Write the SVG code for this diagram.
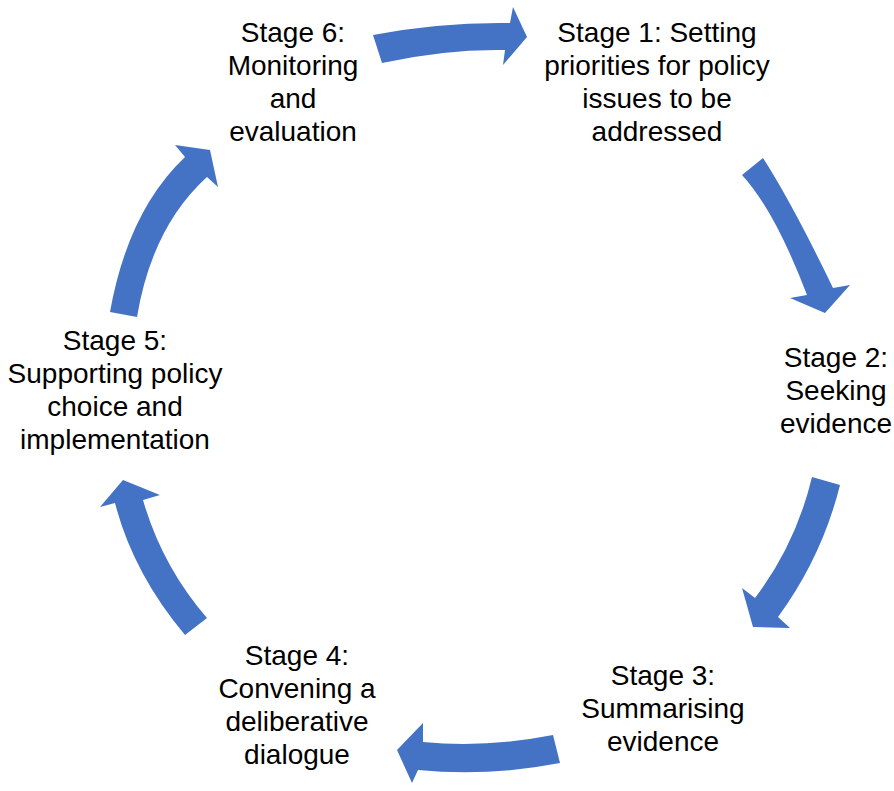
<svg xmlns="http://www.w3.org/2000/svg" width="894" height="791" viewBox="0 0 894 791">
<style>
.lbl{font-family:"Liberation Sans",Arial,sans-serif;font-size:28px;fill:#000;text-anchor:middle}
.arr{fill:#4472C4;stroke:none}
</style>
<rect width="894" height="791" fill="#fff"/>
<g id="connectors">
<path class="arr" d="M373,35 Q440,22 510,23 L513,7 L527,37 L503,65 L505,50 Q445,49 382,63 Z"/>
<path class="arr" d="M763,158 Q792,203 833,288 L850,285 L825,313 L790,298 L807,295 Q775,211 742,175 Z"/>
<path class="arr" d="M840,485 Q822,557 778,617 L790,628 L753,627 L742,588 L755,598 Q796,544 812,477 Z"/>
<path class="arr" d="M560,763 Q488,777 418,770 L412,783 L397,750 L423,723 L423,742 Q487,748 553,735 Z"/>
<path class="arr" d="M185,635 Q133,573 115,503 L100,507 L123,480 L160,495 L143,500 Q162,566 207,618 Z"/>
<path class="arr" d="M137,317 Q152,227 207,177 L218,187 L210,150 L175,145 L185,157 Q128,211 110,312 Z"/>
</g>
<g id="stage1"><text class="lbl" x="657" y="42">Stage 1: Setting</text><text class="lbl" x="657" y="75">priorities for policy</text><text class="lbl" x="657" y="108">issues to be</text><text class="lbl" x="657" y="141">addressed</text></g>
<g id="stage2"><text class="lbl" x="836" y="367">Stage 2:</text><text class="lbl" x="836" y="400">Seeking</text><text class="lbl" x="836" y="433">evidence</text></g>
<g id="stage3"><text class="lbl" x="663" y="685">Stage 3:</text><text class="lbl" x="663" y="718">Summarising</text><text class="lbl" x="663" y="751">evidence</text></g>
<g id="stage4"><text class="lbl" x="297" y="665">Stage 4:</text><text class="lbl" x="297" y="698">Convening a</text><text class="lbl" x="297" y="731">deliberative</text><text class="lbl" x="297" y="764">dialogue</text></g>
<g id="stage5"><text class="lbl" x="115" y="350">Stage 5:</text><text class="lbl" x="115" y="383">Supporting policy</text><text class="lbl" x="115" y="416">choice and</text><text class="lbl" x="115" y="449">implementation</text></g>
<g id="stage6"><text class="lbl" x="293" y="42">Stage 6:</text><text class="lbl" x="293" y="75">Monitoring</text><text class="lbl" x="293" y="108">and</text><text class="lbl" x="293" y="141">evaluation</text></g>
</svg>
